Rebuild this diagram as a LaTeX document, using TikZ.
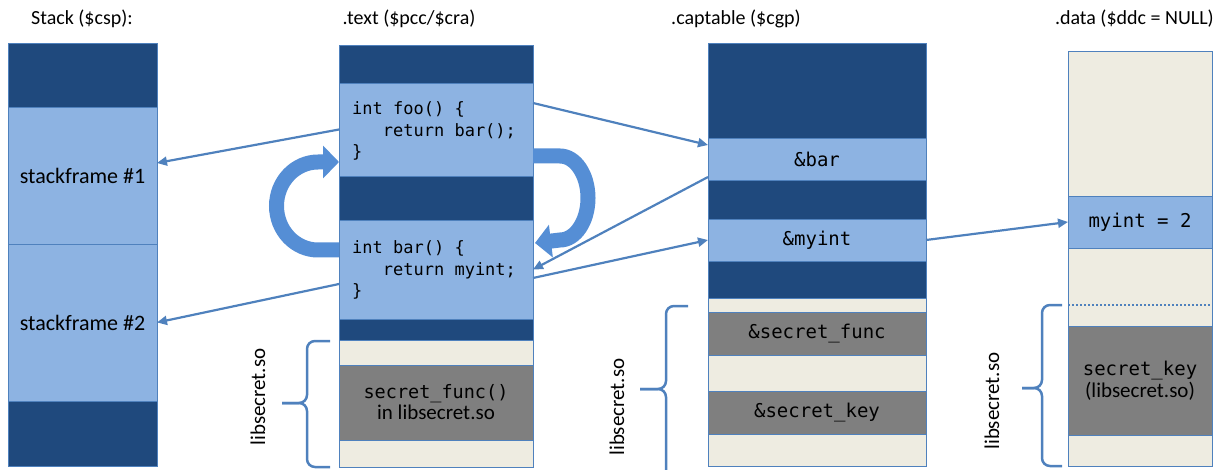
\documentclass[tikz,border=0pt]{standalone}
\usepackage{fontspec}
\setmainfont{Carlito}
\newfontfamily\codefont{DejaVu Sans Mono}
\usetikzlibrary{arrows.meta}
\definecolor{navy}{HTML}{1F497D}
\definecolor{paleblue}{HTML}{8DB3E2}
\definecolor{beige}{HTML}{EEECE1}
\definecolor{midgray}{HTML}{7F7F7F}
\definecolor{cellline}{HTML}{4F81BD}
\definecolor{linkblue}{HTML}{4F81BD}
\definecolor{arcblue}{HTML}{558ED5}
\begin{document}
\begin{tikzpicture}[x=1pt,y=-1pt,
  cell/.style={draw=cellline, line width=0.8pt, inner sep=0pt, outer sep=0pt,
    anchor=north west, text=black, align=center},
  darkc/.style={cell, fill=navy},
  lightc/.style={cell, fill=paleblue},
  beigec/.style={cell, fill=beige},
  grayc/.style={cell, fill=midgray},
  title/.style={anchor=base, inner sep=0pt, font=\fontsize{20}{24}\selectfont},
  label/.style={font=\fontsize{22}{26}\selectfont},
  code/.style={font=\codefont\fontsize{17}{21.5}\selectfont},
  slot/.style={font=\codefont\fontsize{19}{24}\selectfont},
  side/.style={rotate=90, inner sep=0pt, font=\fontsize{21}{24}\selectfont},
  ptr/.style={draw=linkblue, line width=2.2pt, -{Triangle[length=10pt,width=9pt]}},
  jump/.style={draw=arcblue, line width=15pt, -{Triangle[length=16pt,width=32pt]}},
  brace/.style={draw=linkblue, line width=2.5pt, rounded corners=8pt},
]
\useasboundingbox (0,0) rectangle (1223,470);

% column titles
\node[title] (tstack) at (82,25)   {Stack (\$csp):};
\node[title] (ttext)  at (409,25)  {.text (\$pcc/\$cra)};
\node[title] (tcap)   at (736,25)  {.captable (\$cgp)};
\node[title, anchor=base east] (tdata) at (1214,25) {.data (\$ddc = NULL)};

% stack
\node[darkc,  minimum width=149pt, minimum height=64pt]  (s0)  at (8,43)  {};
\node[lightc, minimum width=149pt, minimum height=137pt, label] (sf1) at (8,107) {stackframe \#1};
\node[lightc, minimum width=149pt, minimum height=157pt, label] (sf2) at (8,244) {stackframe \#2};
\node[darkc,  minimum width=149pt, minimum height=65pt]  (s3)  at (8,401) {};

% .text
\node[darkc,  minimum width=194pt, minimum height=38pt] (t0)  at (339,45)  {};
\node[lightc, minimum width=194pt, minimum height=93pt] (foo) at (339,83)  {};
\node[darkc,  minimum width=194pt, minimum height=44pt] (t2)  at (339,176) {};
\node[lightc, minimum width=194pt, minimum height=99pt] (bar) at (339,220) {};
\node[darkc,  minimum width=194pt, minimum height=21pt] (t4)  at (339,319) {};
\node[beigec, minimum width=194pt, minimum height=25pt] (t5)  at (339,340) {};
\node[grayc,  minimum width=194pt, minimum height=75pt] (sfn) at (339,365)
  {{\codefont\fontsize{18.5}{24}\selectfont secret\_func()}\\[1pt]
   {\fontsize{21}{24}\selectfont in libsecret.so}};
\node[beigec, minimum width=194pt, minimum height=27pt] (t7)  at (339,440) {};

\node[code, anchor=west, align=left, inner sep=0pt] (foocode) at (352,131)
  {int foo() \{\\\hphantom{int}return bar();\\\}};
\node[code, anchor=west, align=left, inner sep=0pt] (barcode) at (352,270)
  {int bar() \{\\\hphantom{int}return myint;\\\}};

% .captable
\node[darkc,  minimum width=218pt, minimum height=95pt] (c0)   at (708,43)  {};
\node[lightc, minimum width=218pt, minimum height=42pt, slot] (cbar) at (708,138) {\&bar};
\node[darkc,  minimum width=218pt, minimum height=39pt] (c2)   at (708,180) {};
\node[lightc, minimum width=218pt, minimum height=42pt, slot] (cmy)  at (708,219) {\&myint};
\node[darkc,  minimum width=218pt, minimum height=37pt] (c4)   at (708,261) {};
\node[beigec, minimum width=218pt, minimum height=14pt] (c5)   at (708,298) {};
\node[grayc,  minimum width=218pt, minimum height=43pt, slot] (csf)  at (708,312) {\&secret\_func};
\node[beigec, minimum width=218pt, minimum height=36pt] (c7)   at (708,355) {};
\node[grayc,  minimum width=218pt, minimum height=43pt, slot] (csk)  at (708,391) {\&secret\_key};
\node[beigec, minimum width=218pt, minimum height=32pt] (c9)   at (708,434) {};

% .data
\node[beigec, minimum width=144pt, minimum height=145pt] (d0)  at (1068,51)  {};
\node[lightc, minimum width=144pt, minimum height=52pt, slot] (dmy) at (1068,196) {myint = 2};
\node[beigec, minimum width=144pt, minimum height=78pt] (d2)  at (1068,248) {};
\node[grayc,  minimum width=144pt, minimum height=109pt] (dsk) at (1068,326)
  {{\codefont\fontsize{19}{24}\selectfont secret\_key}\\[1pt]
   {\fontsize{21}{24}\selectfont (libsecret.so)}};
\node[beigec, minimum width=144pt, minimum height=31pt] (d4)  at (1068,435) {};
\draw[linkblue, line width=2pt, dash pattern=on 2pt off 2pt]
  (d2.west |- 0,305) -- (d2.east |- 0,305);

% call / return loops
\draw[jump] ([yshift=19.5pt]bar.west) -- ++(-21,0)
  arc[start angle=270, end angle=90, x radius=41.5pt, y radius=44pt]
  -- ([yshift=-32.5pt]foo.west);
\draw[jump] ([yshift=-26.5pt]foo.east) -- ++(27,0)
  arc[start angle=90, end angle=-90, x radius=28pt, y radius=42pt]
  -- ([xshift=2pt,yshift=26.5pt]bar.east);

% pointers
\draw[ptr] (foo.west) -- ([yshift=12.5pt]sf1.east);
\draw[ptr] ([yshift=-14.5pt]bar.west) -- (sf2.east);
\draw[ptr] ([yshift=-20pt]foo.north east) -- ([yshift=14pt]cbar.west);
\draw[ptr] ([yshift=3pt]cbar.south west) -- (bar.east);
\draw[ptr] ([yshift=-8.5pt]bar.east) -- (cmy.west);
\draw[ptr] (cmy.east) -- (dmy.west);

% library braces
\draw[brace] (330,341) -- (307,341) -- (307,403) -- (282,403);
\draw[brace] (330,467) -- (307,467) -- (307,403) -- (282,403);
\node[side] (lib1) at (258,397) {libsecret.so};

\draw[brace] (688,306) -- (666,306) -- (666,389) -- (640,389);
\draw[brace] (666,472) -- (666,389) -- (640,389);
\node[side] (lib2) at (617,407) {libsecret.so};

\draw[brace] (1062,305) -- (1042,305) -- (1042,388) -- (1022,388);
\draw[brace] (1062,466) -- (1042,466) -- (1042,388) -- (1022,388);
\node[side] (lib3) at (992,401) {libsecret.so};
\end{tikzpicture}
\end{document}
